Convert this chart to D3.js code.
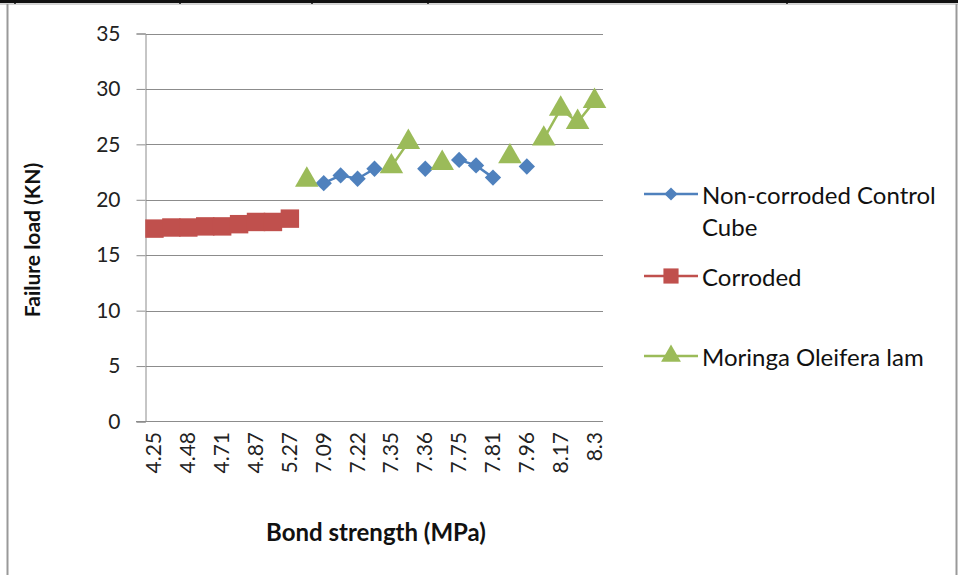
<!DOCTYPE html>
<html>
<head>
<meta charset="utf-8">
<script src="https://cdn.jsdelivr.net/npm/d3@7"></script>
<style>
  html, body { margin: 0; padding: 0; background: #fff; }
  svg { display: block; font-family: Lato, "Open Sans", sans-serif; }
</style>
</head>
<body>
<svg id="chart" width="958" height="575"></svg>
<script>
// Shown category labels (every second category carries a label)
const tickLabels = ["4.25", "4.48", "4.71", "4.87", "5.27", "7.09", "7.22",
                    "7.35", "7.36", "7.75", "7.81", "7.96", "8.17", "8.3"];
const categoryCount = 27;

// Failure load (KN) per category; null where the specimen type has no reading
const nonCorroded = [null, null, null, null, null, null, null, null, null,
                     null, 21.5, 22.2, 21.9, 22.8, null, null, 22.8, null,
                     23.6, 23.1, 22.0, null, 23.0, null, null, null, null];
const corroded = [17.4, 17.5, 17.5, 17.6, 17.6, 17.8, 18.0, 18.0, 18.3,
                  null, null, null, null, null, null, null, null, null,
                  null, null, null, null, null, null, null, null, null];
const moringa = [null, null, null, null, null, null, null, null, null,
                 21.8, null, null, null, null, 23.0, 25.2, null, 23.3,
                 null, null, null, 23.9, null, 25.5, 28.2, 27.0, 28.9];

const yTicks = [0, 5, 10, 15, 20, 25, 30, 35];

const svg = d3.select("#chart");

// Page frame
svg.append("rect").attr("x", 0).attr("y", 0).attr("width", 958).attr("height", 3).attr("fill", "#111");
svg.append("line").attr("x1", 0).attr("x2", 958).attr("y1", 4).attr("y2", 4).attr("stroke", "#aaa").attr("stroke-width", 1);
[15, 180, 312, 428, 787].forEach(x => {
  svg.append("line").attr("x1", x).attr("x2", x).attr("y1", 0).attr("y2", 4).attr("stroke", "#111").attr("stroke-width", 1.5);
});
svg.append("line").attr("x1", 7.5).attr("x2", 7.5).attr("y1", 4).attr("y2", 575).attr("stroke", "#999").attr("stroke-width", 2);
svg.append("line").attr("x1", 956.5).attr("x2", 956.5).attr("y1", 4).attr("y2", 575).attr("stroke", "#999").attr("stroke-width", 2);

const x = d3.scaleBand().domain(d3.range(categoryCount)).range([146, 603]);
const y = d3.scaleLinear().domain([0, 35]).range([421.5, 33.5]);
const cx = i => x(i) + x.bandwidth() / 2;

// Horizontal gridlines
svg.append("g").selectAll("line").data(yTicks.filter(t => t > 0)).join("line")
  .attr("x1", 146).attr("x2", 603)
  .attr("y1", d => Math.round(y(d)) + 0.5).attr("y2", d => Math.round(y(d)) + 0.5)
  .attr("stroke", "#8c8c8c").attr("stroke-width", 1);

// Y axis
const yAxis = svg.append("g").attr("transform", "translate(145.5,0)")
  .call(d3.axisLeft(y).tickValues(yTicks).tickSize(9).tickPadding(16).tickFormat(d3.format("d")));
yAxis.select(".domain").attr("stroke", "#8c8c8c");
yAxis.selectAll(".tick line").attr("stroke", "#8c8c8c");
yAxis.selectAll(".tick text").attr("font-size", 21).attr("fill", "#222").attr("font-family", "Lato, sans-serif");

// X axis (category axis, labels rotated)
svg.append("line").attr("x1", 136).attr("x2", 603).attr("y1", 421.5).attr("y2", 421.5)
  .attr("stroke", "#8c8c8c").attr("stroke-width", 1);
svg.append("g").selectAll("text").data(tickLabels).join("text")
  .attr("transform", (d, k) => `translate(${cx(k * 2) + 7},432) rotate(-90)`)
  .attr("text-anchor", "end")
  .attr("font-size", 21).attr("fill", "#222")
  .text(d => d);

// Axis titles
svg.append("text").attr("transform", "translate(35,240) rotate(-90)")
  .attr("text-anchor", "middle").attr("dominant-baseline", "middle")
  .attr("font-size", 21).attr("font-weight", "bold").attr("fill", "#111")
  .text("Failure load (KN)");
svg.append("text").attr("x", 376).attr("y", 541)
  .attr("text-anchor", "middle")
  .attr("font-size", 24).attr("font-weight", "bold").attr("fill", "#111")
  .text("Bond strength (MPa)");

const series = [
  { name: "Non-corroded Control Cube", values: nonCorroded, color: "#4F81BD", marker: "diamond" },
  { name: "Corroded", values: corroded, color: "#C0504D", marker: "square" },
  { name: "Moringa Oleifera lam", values: moringa, color: "#9BBB59", marker: "triangle" }
];

const markerPath = {
  diamond: d3.symbol().type(d3.symbolDiamond2).size(170)(),
  square: d3.symbol().type(d3.symbolSquare).size(340)(),
  triangle: d3.symbol().type(d3.symbolTriangle).size(240)()
};
const legendMarker = {
  diamond: d3.symbol().type(d3.symbolDiamond2).size(110)(),
  square: d3.symbol().type(d3.symbolSquare).size(230)(),
  triangle: d3.symbol().type(d3.symbolTriangle).size(170)()
};

const line = d3.line()
  .defined(d => d.v !== null)
  .x(d => cx(d.i))
  .y(d => y(d.v));

series.forEach(s => {
  const pts = s.values.map((v, i) => ({ i, v }));
  const g = svg.append("g");
  g.append("path").attr("d", line(pts))
    .attr("fill", "none").attr("stroke", s.color).attr("stroke-width", 2.5)
    .attr("stroke-linejoin", "round");
  g.selectAll("path.m").data(pts.filter(p => p.v !== null)).join("path")
    .attr("class", "m")
    .attr("d", markerPath[s.marker])
    .attr("transform", p => `translate(${cx(p.i)},${y(p.v)})`)
    .attr("fill", s.color);
});

// Legend
const legendRows = [
  { s: series[0], y: 194, lines: ["Non-corroded Control", "Cube"] },
  { s: series[1], y: 276, lines: ["Corroded"] },
  { s: series[2], y: 356, lines: ["Moringa Oleifera lam"] }
];
const lg = svg.append("g");
legendRows.forEach(r => {
  lg.append("line").attr("x1", 644).attr("x2", 698).attr("y1", r.y).attr("y2", r.y)
    .attr("stroke", r.s.color).attr("stroke-width", 2.5);
  lg.append("path").attr("d", legendMarker[r.s.marker])
    .attr("transform", `translate(671,${r.y})`).attr("fill", r.s.color);
  r.lines.forEach((t, k) => {
    lg.append("text").attr("x", 702).attr("y", r.y + k * 32)
      .attr("dominant-baseline", "central")
      .attr("font-size", 24).attr("fill", "#111").text(t);
  });
});
</script>
</body>
</html>
